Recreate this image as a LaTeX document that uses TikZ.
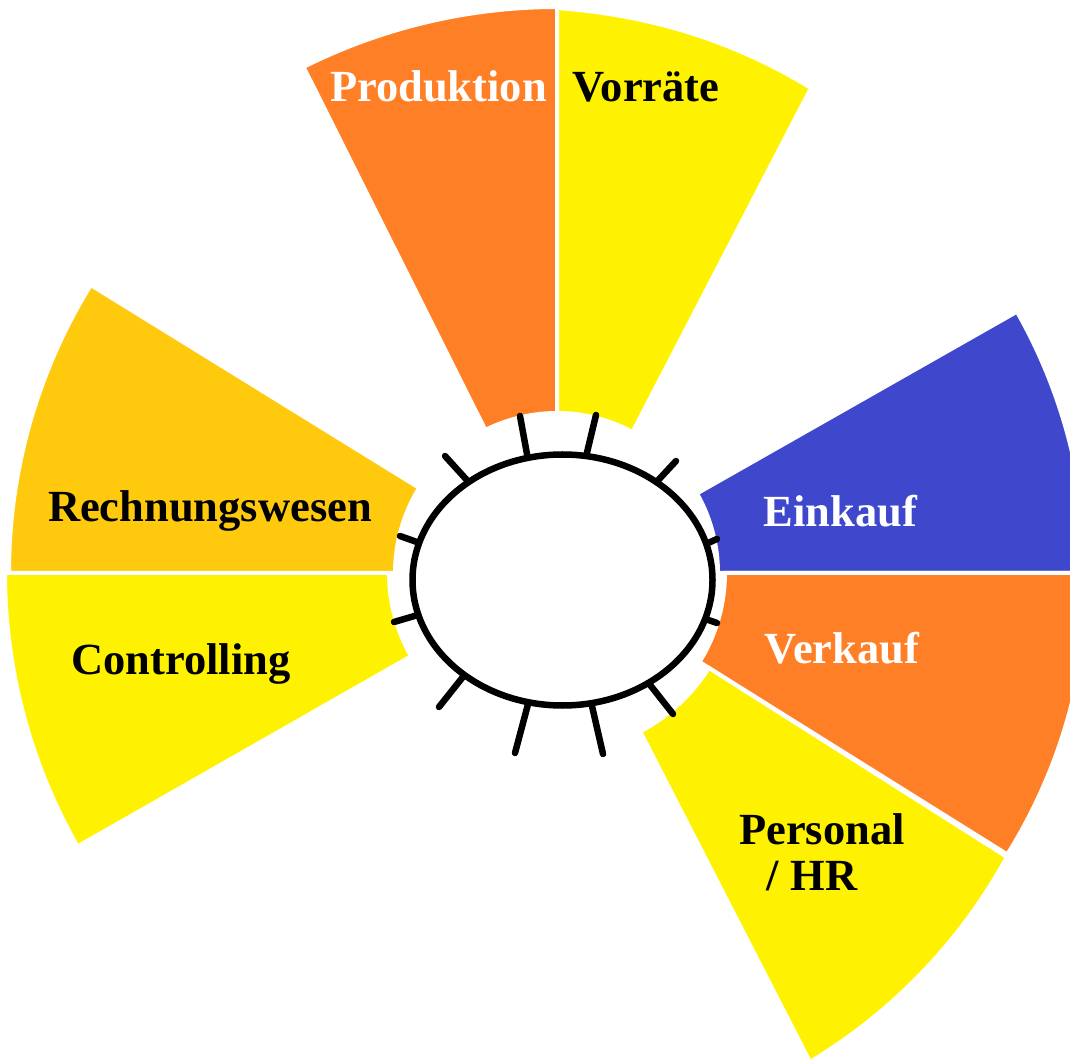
\documentclass[tikz,border=0pt]{standalone}
\usepackage{fontspec}
\setmainfont{Liberation Serif}
\usetikzlibrary{shapes.geometric}
\definecolor{porange}{HTML}{FF7F27}
\definecolor{pyellow}{HTML}{FFF200}
\definecolor{pgold}{HTML}{FFC90E}
\definecolor{pindigo}{HTML}{3F48CC}
\newcommand\mysector[5]{%
  \filldraw[sectorbox, fill=#5]
    (#1:#4) arc[start angle=#1, end angle=#2, radius=#4]
    -- (#2:#3) arc[start angle=#2, end angle=#1, radius=#3] -- cycle;}
\begin{document}
\begin{tikzpicture}[x=1pt,y=1pt,
  sectorbox/.style={draw=white, line width=4pt, line join=miter},
  lbl/.style={font=\fontsize{44.5}{50}\selectfont\bfseries, anchor=base, inner sep=0},
  tick/.style={line width=6.5pt, line cap=round}]
\clip (0,0) rectangle (1070,1061);
\fill[white] (0,0) rectangle (1070,1061);
\coordinate (C) at (557,488);
\begin{scope}[shift={(C)}]
  \mysector{90}{116.6}{160}{566}{porange}
  % Vorraete
  \filldraw[sectorbox, fill=pyellow]
    (90:160) -- (0,565) .. controls (94,558) and (177,532) .. (254,485)
    -- (61.8:160) arc[start angle=61.8, end angle=90, radius=160] -- cycle;
  \mysector{0}{29.6}{161}{529}{pindigo}
  \mysector{-32}{0}{168}{531}{porange}
  % Personal / HR
  \filldraw[sectorbox, fill=pyellow]
    (-62.3:179) -- (253,-489) .. controls (337,-438) and (403,-369) .. (450,-284)
    -- (-32:179) arc[start angle=-32, end angle=-62.3, radius=179] -- cycle;
  \mysector{180}{209.7}{168}{552}{pyellow}
  \mysector{148.3}{180}{162}{548}{pgold}
\end{scope}
% ticks
\coordinate (t1a) at (520,645); \coordinate (t1b) at (529,596);
\coordinate (t2a) at (596,646); \coordinate (t2b) at (584,596);
\coordinate (t3a) at (445,605); \coordinate (t3b) at (475,572);
\coordinate (t4a) at (676,600); \coordinate (t4b) at (650,572);
\coordinate (t5a) at (400,525); \coordinate (t5b) at (428,515);
\coordinate (t6a) at (717,522); \coordinate (t6b) at (697,513);
\coordinate (t7a) at (394,439); \coordinate (t7b) at (428,449);
\coordinate (t8a) at (717,438); \coordinate (t8b) at (697,445);
\coordinate (t9a) at (439,354); \coordinate (t9b) at (470,393);
\coordinate (t10a) at (515,308); \coordinate (t10b) at (531,368);
\coordinate (t11a) at (603,307); \coordinate (t11b) at (589,368);
\coordinate (t12a) at (673,347); \coordinate (t12b) at (643,385);
\foreach \i in {1,...,12} \draw[tick] (t\i a) -- (t\i b);
\node[ellipse, draw, fill=white, line width=6.5pt, minimum width=300, minimum height=251, inner sep=0] (hub) at (562.5,481) {};
% labels
\node[lbl, white] (produktion) at (438.5,959) {Produktion};
\node[lbl] (vorraete) at (646,959) {Vorräte};
\node[lbl, white] (einkauf) at (840.5,534) {Einkauf};
\node[lbl, white] (verkauf) at (842,398) {Verkauf};
\node[lbl] (personal) at (822,217) {Personal};
\node[lbl] (hr) at (812,171) {/ HR};
\node[lbl] (rechnung) at (210,539) {Rechnungswesen};
\node[lbl] (controlling) at (181,387) {Controlling};
\end{tikzpicture}
\end{document}
